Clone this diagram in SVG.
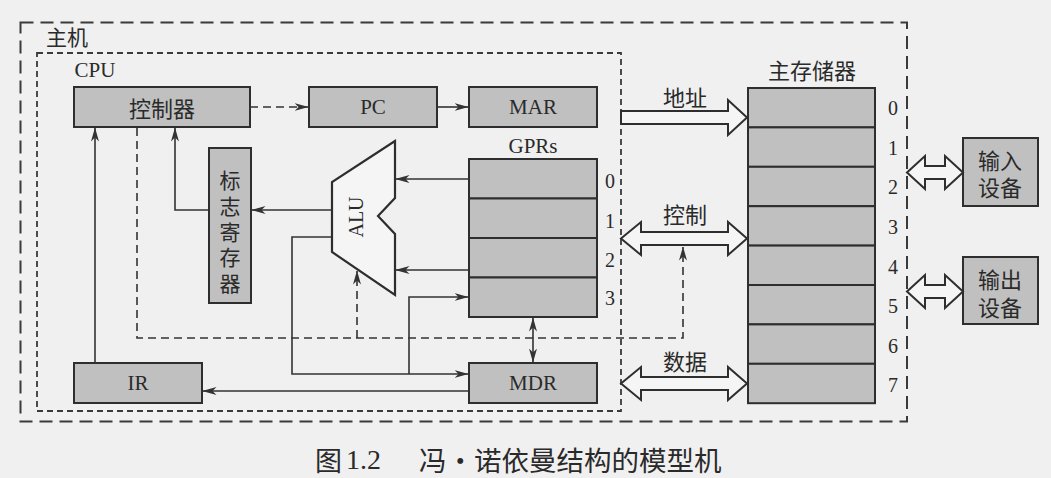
<svg xmlns="http://www.w3.org/2000/svg" width="1051" height="478" viewBox="0 0 1051 478">
<style>
.bg{fill:#f0f0f0}
.box{fill:#c0c0c0;stroke:#2e2e2e;stroke-width:2}
.ln{fill:none;stroke:#333;stroke-width:1.6}
.dl{fill:none;stroke:#333;stroke-width:1.6;stroke-dasharray:8 5}
.bus{fill:#f5f5f5;stroke:#2e2e2e;stroke-width:2;stroke-linejoin:miter}
.outer{fill:none;stroke:#3a3a3a;stroke-width:2;stroke-dasharray:13 7}
.inner{fill:none;stroke:#3a3a3a;stroke-width:1.8;stroke-dasharray:6 4}
.lat{font-family:"Liberation Serif","Noto Sans CJK SC",serif;fill:#2a2a2a;dominant-baseline:central;text-anchor:middle}
.cjk{font-family:"Noto Sans CJK SC","Noto Sans",sans-serif;fill:#2a2a2a;dominant-baseline:central;text-anchor:middle}
.dev{font-family:"Liberation Sans","Noto Sans CJK SC",sans-serif;fill:#2a2a2a;dominant-baseline:central;text-anchor:middle}
.vert{writing-mode:vertical-rl;letter-spacing:4.7px}
.alu{fill:#f5f5f5;stroke:#2e2e2e;stroke-width:2.2;stroke-linejoin:miter}
</style>
<defs>
<marker id="ah" markerUnits="userSpaceOnUse" markerWidth="14" markerHeight="10" refX="13.5" refY="5" orient="auto-start-reverse">
<path d="M0,1 L14,5 L0,9 L4,5 z" fill="#333"/>
</marker>
</defs>
<rect class="bg" x="0" y="0" width="1051" height="478"/>

<g id="host-frame">
<rect class="outer" x="20.5" y="22.5" width="886.5" height="399"/>
<text class="cjk" x="67" y="36" font-size="21">主机</text>
</g>
<g id="cpu-frame">
<rect class="inner" x="37" y="53" width="584" height="358"/>
<text class="lat" x="95" y="70" font-size="21">CPU</text>
</g>

<g id="controller">
<rect class="box" x="74" y="87" width="176" height="40"/>
<text class="cjk" x="162" y="107" font-size="22">控制器</text>
</g>
<g id="pc">
<rect class="box" x="309" y="87" width="128" height="40"/>
<text class="lat" x="373" y="107" font-size="21">PC</text>
</g>
<g id="mar">
<rect class="box" x="469" y="87" width="128" height="40"/>
<text class="lat" x="533" y="107" font-size="21">MAR</text>
</g>
<g id="flags">
<rect class="box" x="209" y="148" width="42" height="155"/>
<text class="cjk vert" x="230" y="234" font-size="21">标志寄存器</text>
</g>
<g id="alu">
<polygon class="alu" points="395,141 332,182 332,252 395,295 395,234 378,216 395,198"/>
<text class="lat" x="0" y="0" font-size="20" transform="translate(356,217) rotate(-90)">ALU</text>
</g>
<g id="gprs">
<text class="lat" x="533" y="146" font-size="21">GPRs</text>
<rect class="box" x="469" y="159" width="128" height="39.5"/>
<rect class="box" x="469" y="198.5" width="128" height="39.5"/>
<rect class="box" x="469" y="238" width="128" height="39.5"/>
<rect class="box" x="469" y="277.5" width="128" height="39.5"/>
<text class="lat" x="610" y="181" font-size="20">0</text>
<text class="lat" x="610" y="221" font-size="20">1</text>
<text class="lat" x="610" y="260" font-size="20">2</text>
<text class="lat" x="610" y="298" font-size="20">3</text>
</g>
<g id="ir">
<rect class="box" x="74" y="363" width="128" height="40"/>
<text class="lat" x="138" y="383" font-size="21">IR</text>
</g>
<g id="mdr">
<rect class="box" x="469" y="363" width="128" height="40"/>
<text class="lat" x="533" y="383" font-size="21">MDR</text>
</g>

<g id="memory">
<text class="cjk" x="812" y="69" font-size="22">主存储器</text>
<rect class="box" x="748" y="88" width="127" height="39.4"/>
<rect class="box" x="748" y="127.4" width="127" height="39.4"/>
<rect class="box" x="748" y="166.8" width="127" height="39.4"/>
<rect class="box" x="748" y="206.2" width="127" height="39.4"/>
<rect class="box" x="748" y="245.6" width="127" height="39.4"/>
<rect class="box" x="748" y="285" width="127" height="39.4"/>
<rect class="box" x="748" y="324.4" width="127" height="39.4"/>
<rect class="box" x="748" y="363.8" width="127" height="39.4"/>
<text class="lat" x="893" y="108" font-size="20">0</text>
<text class="lat" x="893" y="148" font-size="20">1</text>
<text class="lat" x="893" y="187" font-size="20">2</text>
<text class="lat" x="893" y="227" font-size="20">3</text>
<text class="lat" x="893" y="267" font-size="20">4</text>
<text class="lat" x="893" y="306" font-size="20">5</text>
<text class="lat" x="893" y="346" font-size="20">6</text>
<text class="lat" x="893" y="385" font-size="20">7</text>
</g>

<g id="input-device">
<rect class="box" x="963" y="138" width="75" height="68"/>
<text class="dev" x="1000" y="161" font-size="22">输入</text>
<text class="dev" x="1000" y="188.5" font-size="22">设备</text>
</g>
<g id="output-device">
<rect class="box" x="963" y="257" width="75" height="67"/>
<text class="dev" x="1000" y="280.5" font-size="22">输出</text>
<text class="dev" x="1000" y="308" font-size="22">设备</text>
</g>

<g id="connectors">
<path class="ln" d="M95,363 V128" marker-end="url(#ah)"/>
<path class="ln" d="M209,210 H175 V128" marker-end="url(#ah)"/>
<path class="ln" d="M332,210 H252" marker-end="url(#ah)"/>
<path class="ln" d="M469,179 H396" marker-end="url(#ah)"/>
<path class="ln" d="M469,270 H396" marker-end="url(#ah)"/>
<path class="ln" d="M332,237 H292 V374 H468" marker-end="url(#ah)"/>
<path class="ln" d="M409,374 V297 H468" marker-end="url(#ah)"/>
<path class="ln" d="M469,391 H203" marker-end="url(#ah)"/>
<path class="ln" d="M437,107 H468" marker-end="url(#ah)"/>
<path class="dl" d="M250,107 H308" marker-end="url(#ah)"/>
<path class="ln" d="M533,318 V362" marker-start="url(#ah)" marker-end="url(#ah)"/>
<path class="dl" d="M137,128 V338 H683 V247" marker-end="url(#ah)"/>
<path class="dl" d="M357,338 V271" marker-end="url(#ah)"/>
</g>

<g id="buses">
<polygon class="bus" points="621,111 728,111 728,100 747,117.5 728,135 728,124 621,124"/>
<text class="cjk" x="685" y="96" font-size="22">地址</text>
<polygon class="bus" points="621,238.5 641,222 641,232 728,232 728,222 747,238.5 728,255 728,245 641,245 641,255"/>
<text class="cjk" x="685" y="213" font-size="22">控制</text>
<polygon class="bus" points="621,383.5 641,367 641,377 728,377 728,367 747,383.5 728,400 728,390 641,390 641,400"/>
<text class="cjk" x="685" y="360" font-size="22">数据</text>
<polygon class="bus" points="907,172.5 925,156 925,166 945,166 945,156 963,172.5 945,189 945,179 925,179 925,189"/>
<polygon class="bus" points="907,291.5 925,275 925,285 945,285 945,275 963,291.5 945,308 945,298 925,298 925,308"/>
</g>

<g id="caption">
<text class="cjk" x="315" y="459" font-size="27" style="text-anchor:start">图</text>
<text class="lat" x="346" y="459" font-size="28" style="text-anchor:start">1.2</text>
<text class="cjk" x="419" y="459" font-size="27.5" style="text-anchor:start">冯・诺依曼结构的模型机</text>
</g>
</svg>
